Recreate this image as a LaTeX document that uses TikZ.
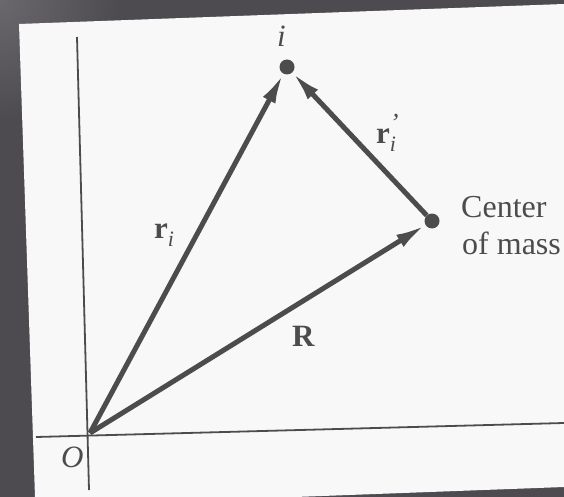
\documentclass[tikz,border=0pt]{standalone}
\usepackage{fontspec}
\setmainfont{Liberation Serif}
\usetikzlibrary{arrows.meta}
\definecolor{bgdark}{HTML}{4D4B50}
\definecolor{bglight}{HTML}{6A686D}
\definecolor{paper}{HTML}{F8F8F8}
\definecolor{ink}{HTML}{4C4C4C}
\begin{document}
\begin{tikzpicture}[x=1pt,y=-1pt,
  vec/.style={ink, line width=5pt, -{Latex[length=30pt,width=14pt]}},
  axisline/.style={ink, line width=1.8pt},
  massdot/.style={circle, fill=ink, inner sep=0pt, minimum size=15pt},
  lab/.style={ink, font=\fontsize{31}{36}\selectfont, inner sep=0pt, anchor=base west},
  txt/.style={ink, font=\fontsize{32}{37}\selectfont, inner sep=0pt, anchor=base west}]
\useasboundingbox (0,0) rectangle (564,497);
% background and scanned page
\fill[bgdark] (0,0) rectangle (564,497);
\shade[inner color=bglight, outer color=bgdark] (-120,-120) rectangle (120,120);
\fill[paper] (19,24) -- (564,4) -- (564,487) -- (295,497) -- (35,497) -- cycle;
% axes
\coordinate (vtop) at (77,37);
\coordinate (vbot) at (89,490);
\coordinate (hleft) at (36,437);
\coordinate (hright) at (564,423);
\draw[axisline] (vtop) -- (vbot);
\draw[axisline] (hleft) -- (hright);
% points
\coordinate (O) at (90,433);
\node[massdot] (i) at (287,67) {};
\node[massdot] (cm) at (432,221) {};
% vectors
\draw[vec] (O) -- (i);
\draw[vec] (O) -- (cm);
\draw[vec] (cm) -- (i);
% labels
\node[lab] (li) at (277,47) {\itshape i};
\node[lab] (lri) at (154,238) {\bfseries r\raisebox{-8pt}{\fontsize{22}{22}\selectfont\mdseries\itshape i}};
\node[lab] (lrp) at (376,144) {\bfseries r\makebox[0pt][l]{\raisebox{13pt}{\fontsize{26}{26}\selectfont\mdseries\itshape\textquoteright}}\raisebox{-8pt}{\fontsize{22}{22}\selectfont\mdseries\itshape i}};
\node[lab] (lR) at (292,346) {\bfseries R};
\node[lab, font=\fontsize{31}{36}\selectfont\itshape] (lO) at (61,467) {O};
\node[txt] (c1) at (461,217) {Center};
\node[txt] (c2) at (462,254) {of mass};
\end{tikzpicture}
\end{document}
